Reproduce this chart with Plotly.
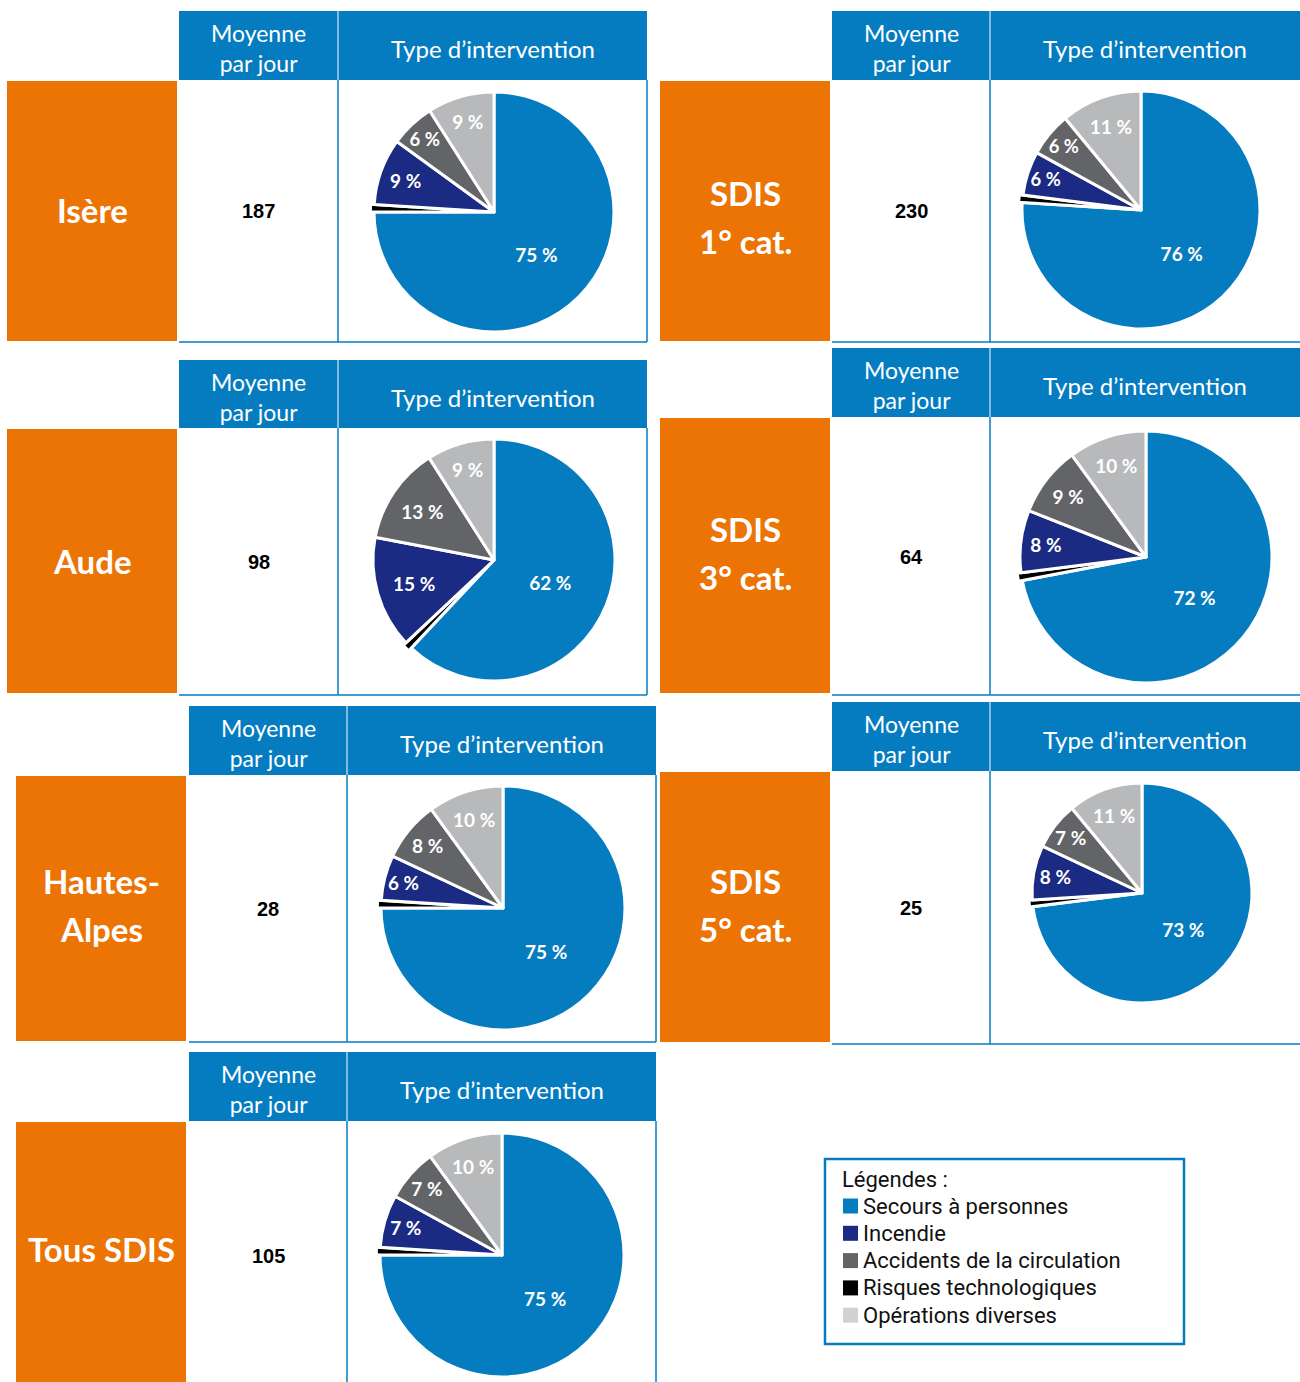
import plotly.graph_objects as go

# ---------------- data ----------------
categories = ["Secours à personnes", "Incendie", "Accidents de la circulation",
              "Risques technologiques", "Opérations diverses"]
regions = ["Isère", "Aude", "Hautes-Alpes", "Tous SDIS",
           "SDIS 1° cat.", "SDIS 3° cat.", "SDIS 5° cat."]
region_lines = [["Isère"], ["Aude"], ["Hautes-", "Alpes"], ["Tous SDIS"],
                ["SDIS", "1° cat."], ["SDIS", "3° cat."], ["SDIS", "5° cat."]]
moyenne_par_jour = [187, 98, 28, 105, 230, 64, 25]
secours = [75, 62, 75, 75, 76, 72, 73]
incendie = [9, 15, 6, 7, 6, 8, 8]
accidents = [6, 13, 8, 7, 6, 9, 7]
risques = [1, 1, 1, 1, 1, 1, 1]          # estimated (unlabelled thin slice)
operations = [9, 9, 10, 10, 11, 10, 11]

# ---------------- styles ----------------
W, H = 1300, 1382
BLUE = "#067cc0"
NAVY = "#1b2a82"
DGRAY = "#636467"
LGRAY = "#b8b9bb"
BLACK = "#000000"
ORANGE = "#ec7405"
slice_colors = {"Secours à personnes": BLUE, "Incendie": NAVY,
                "Accidents de la circulation": DGRAY,
                "Risques technologiques": BLACK, "Opérations diverses": LGRAY}
legend_colors = [BLUE, NAVY, DGRAY, BLACK, "#d1d2d4"]

# panel geometry (pixels): orange x0,x1 ; cell x0, divider, x1 ; header y0,y1 ;
# orange y0,y1 ; bottom line y ; pie centre & radius ; label centre y ; number y
panels = [
    dict(ox=(7, 177), cx=(179, 338, 647), hy=(11, 80), oy=(81, 341), by=342, pie=(494, 212, 120), ly=210, ny=211),
    dict(ox=(7, 177), cx=(179, 338, 647), hy=(360, 428), oy=(429, 693), by=695, pie=(494, 560, 121), ly=561, ny=562),
    dict(ox=(16, 186), cx=(189, 347, 656), hy=(706, 775), oy=(776, 1041), by=1042, pie=(503, 908, 122), ly=905, ny=909),
    dict(ox=(16, 186), cx=(189, 347, 656), hy=(1052, 1121), oy=(1122, 1382), by=None, pie=(502, 1255, 122), ly=1249, ny=1256),
    dict(ox=(660, 830), cx=(832, 990, 1300), hy=(11, 80), oy=(81, 341), by=342, pie=(1141, 210, 119), ly=217, ny=211),
    dict(ox=(660, 830), cx=(832, 990, 1300), hy=(348, 417), oy=(418, 693), by=695, pie=(1146, 557, 126), ly=553, ny=557),
    dict(ox=(660, 830), cx=(832, 990, 1300), hy=(702, 771), oy=(772, 1042), by=1044, pie=(1142, 893, 110), ly=905, ny=908),
]
PULL = 0.03

fig = go.Figure()
shapes = []
annotations = []

HEAD_FONT = dict(family="Lato", size=22, color="white")

for i, p in enumerate(panels):
    ox0, ox1 = p["ox"]
    cx0, cdiv, cx1 = p["cx"]
    hy0, hy1 = p["hy"]
    oy0, oy1 = p["oy"]
    bottom = p["by"] if p["by"] is not None else H + 2
    # header cells
    shapes.append(dict(type="rect", x0=cx0, x1=cdiv - 0.5, y0=hy0, y1=hy1,
                       fillcolor=BLUE, line=dict(width=0), layer="below"))
    shapes.append(dict(type="rect", x0=cdiv + 0.5, x1=cx1, y0=hy0, y1=hy1,
                       fillcolor=BLUE, line=dict(width=0), layer="below"))
    # orange label box
    shapes.append(dict(type="rect", x0=ox0, x1=ox1, y0=oy0, y1=oy1,
                       fillcolor=ORANGE, line=dict(width=0), layer="below"))
    # cell borders
    shapes.append(dict(type="line", x0=cdiv, x1=cdiv, y0=hy1, y1=bottom,
                       line=dict(color=BLUE, width=1.5), layer="below"))
    if cx1 < W:
        shapes.append(dict(type="line", x0=cx1, x1=cx1, y0=hy1, y1=bottom,
                           line=dict(color=BLUE, width=1.5), layer="below"))
    if p["by"] is not None:
        shapes.append(dict(type="line", x0=cx0, x1=cx1, y0=bottom, y1=bottom,
                           line=dict(color=BLUE, width=1.5), layer="below"))
    # header texts
    hxm = (cx0 + cdiv) / 2
    annotations.append(dict(x=hxm, y=hy0 + 37, text="Moyenne<br>par jour", showarrow=False,
                            align="center", font=dict(HEAD_FONT, size=23)))
    annotations.append(dict(x=(cdiv + cx1) / 2, y=hy0 + 37, text="Type d’intervention",
                            showarrow=False, font=dict(HEAD_FONT, size=24)))
    # region label (one or two lines)
    lines = region_lines[i]
    ys = [p["ly"]] if len(lines) == 1 else [p["ly"] - 24, p["ly"] + 24]
    for ln, yy in zip(lines, ys):
        annotations.append(dict(x=(ox0 + ox1) / 2, y=yy, text=ln, showarrow=False,
                                font=dict(family="Lato", size=33, color="white", weight="bold")))
    # mean per day
    annotations.append(dict(x=hxm, y=p["ny"], text=str(moyenne_par_jour[i]), showarrow=False,
                            font=dict(family="Liberation Sans", size=20, color="black", weight="bold")))

    # pie (clockwise from 12 o'clock)
    vals = [secours[i], risques[i], incendie[i], accidents[i], operations[i]]
    labs = [categories[0], categories[3], categories[1], categories[2], categories[4]]
    txt = [f"{v} %" if lab != "Risques technologiques" else "" for v, lab in zip(vals, labs)]
    pxc, pyc, r = p["pie"]
    half = r * (1 + PULL)
    fig.add_trace(go.Pie(
        values=vals, labels=labs, text=txt, textinfo="text",
        sort=False, direction="clockwise", rotation=0,
        pull=[PULL if lab == "Risques technologiques" else 0 for lab in labs],
        marker=dict(colors=[slice_colors[l] for l in labs], line=dict(color="white", width=3)),
        textposition="inside", insidetextorientation="horizontal",
        textfont=dict(family="Lato", size=19, color="white", weight="bold"),
        domain=dict(x=[(pxc - half) / W, (pxc + half) / W],
                    y=[1 - (pyc + half) / H, 1 - (pyc - half) / H]),
        showlegend=False, hoverinfo="label+percent", name=regions[i],
    ))

# legend box
LX0, LX1, LY0, LY1 = 825, 1184, 1159, 1344
shapes.append(dict(type="rect", x0=LX0, x1=LX1, y0=LY0, y1=LY1,
                   line=dict(color=BLUE, width=2.5), fillcolor="white", layer="below"))
LEG_FONT = dict(family="Roboto", size=22, color="#111111")
annotations.append(dict(x=840, y=1179, text="Légendes :", showarrow=False,
                        xanchor="left", font=LEG_FONT))
for k, (cat, col) in enumerate(zip(categories, legend_colors)):
    yc = 1206 + k * 27.3
    shapes.append(dict(type="rect", x0=843, x1=858, y0=yc - 7.5, y1=yc + 7.5,
                       fillcolor=col, line=dict(width=0), layer="below"))
    annotations.append(dict(x=861, y=yc, text=cat, showarrow=False,
                            xanchor="left", font=LEG_FONT))

for a in annotations:
    a.setdefault("xref", "x")
    a.setdefault("yref", "y")
for s in shapes:
    s.setdefault("xref", "x")
    s.setdefault("yref", "y")

fig.update_layout(
    width=W, height=H, margin=dict(l=0, r=0, t=0, b=0),
    paper_bgcolor="white", plot_bgcolor="white",
    xaxis=dict(range=[0, W], visible=False, fixedrange=True),
    yaxis=dict(range=[H, 0], visible=False, fixedrange=True),
    shapes=shapes, annotations=annotations, showlegend=False,
)
fig.write_html(
    "out.html",
    config={"displayModeBar": False},
    post_script="document.body.style.margin='0';document.body.style.padding='0';"
                "document.body.style.overflow='hidden';",
)
